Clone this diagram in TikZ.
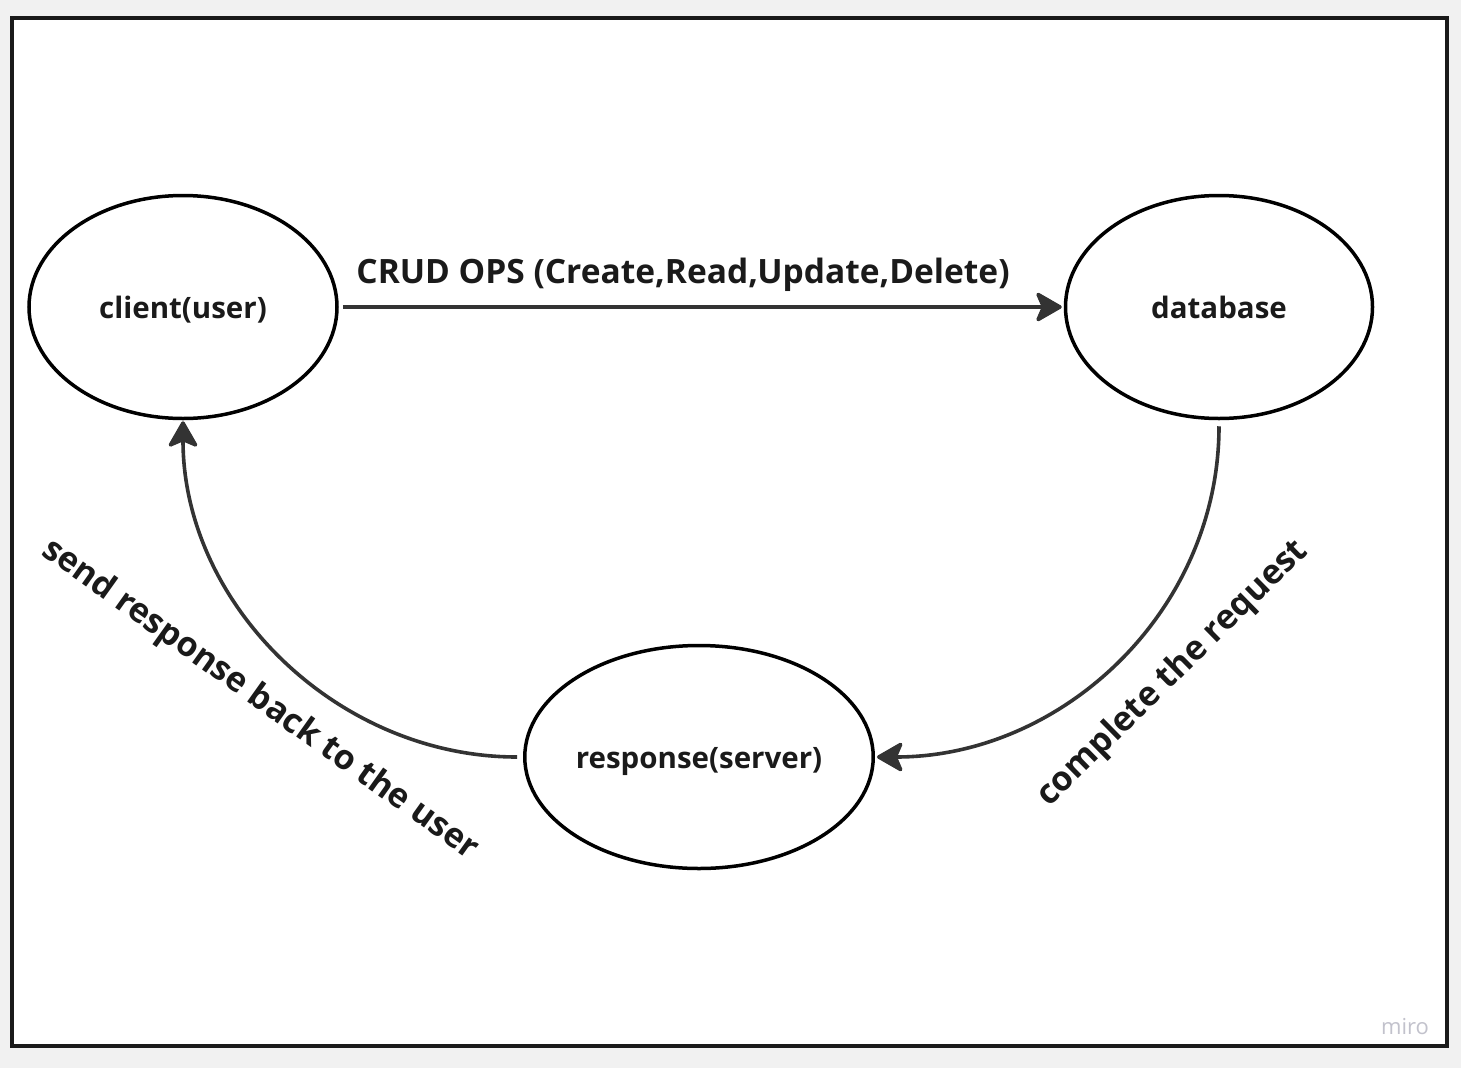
\documentclass[tikz,border=0pt]{standalone}
\usepackage{fontspec}
\setmainfont{Open Sans}
\usetikzlibrary{shapes.geometric,arrows.meta}
\definecolor{bgc}{HTML}{F1F1F1}
\definecolor{framec}{HTML}{1A1A1A}
\definecolor{arrc}{HTML}{333333}
\definecolor{miroc}{HTML}{C2C2CC}
\begin{document}
\begin{tikzpicture}[x=1pt,y=-1pt,
  blob/.style={ellipse,draw=black,line width=3.5pt,fill=white,inner sep=0pt,
    text height=22pt,text depth=0pt,
    font=\fontsize{29.5}{32}\selectfont\bfseries,text=framec},
  conn/.style={draw=arrc,line width=3.6pt,
    -{Stealth[round,length=29pt,width=33pt,inset=7pt]}},
  lbl/.style={font=\fontsize{34}{38}\selectfont\bfseries,text=framec,inner sep=0pt}]
\path[fill=bgc] (0,0) rectangle (1461,1068);
\useasboundingbox (0,0) rectangle (1461,1068);
\draw[framec,line width=4pt,fill=white] (12,18) rectangle (1447,1046);
\node[blob,minimum width=308pt,minimum height=223pt] (client) at (183,307) {client(user)};
\node[blob,minimum width=307pt,minimum height=223pt] (db) at (1219,307) {database};
\node[blob,minimum width=346pt,minimum height=223pt] (resp) at (699,757) {response(server)};
\draw[conn,shorten <=4pt,shorten >=2pt] (client.east) -- (db.west);
\draw[conn,shorten <=6pt,shorten >=2pt] (db.south) .. controls +(0,190) and +(188,0) .. (resp.east);
\draw[conn,shorten <=6pt,shorten >=1pt] (resp.west) .. controls +(-186,0) and +(0,184) .. (client.south);
\node[lbl,font=\fontsize{33.5}{36}\selectfont\bfseries] (crud) at (683,275) {CRUD OPS (Create,Read,Update,Delete)};
\node[lbl,rotate=-35.5] (send) at (260,700) {send response back to the user};
\node[lbl,rotate=44.5] (compl) at (1173,674) {complete the request};
\node[font=\fontsize{22}{24}\selectfont,text=miroc,inner sep=0pt] (miro) at (1405,1027) {miro};
\end{tikzpicture}
\end{document}
